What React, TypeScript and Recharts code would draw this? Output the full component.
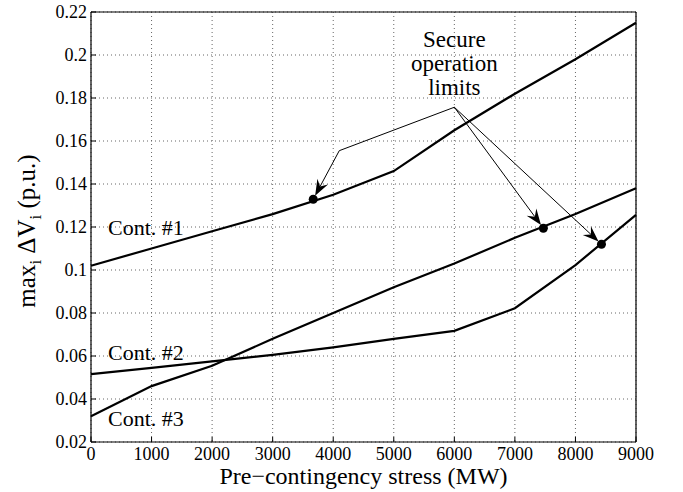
import { CartesianGrid, Line, LineChart, ReferenceDot, ReferenceLine, XAxis, YAxis } from "recharts";

const FONT = "Liberation Serif, DejaVu Serif, serif";

const stress = [0, 1000, 2000, 3000, 4000, 5000, 6000, 7000, 8000, 9000];
const cont1 = [0.102, 0.11, 0.118, 0.126, 0.135, 0.146, 0.165, 0.182, 0.198, 0.215];
const cont2 = [0.0516, 0.0545, 0.0575, 0.0605, 0.064, 0.068, 0.0717, 0.0822, 0.1023, 0.1256];
const cont3 = [0.032, 0.046, 0.0555, 0.068, 0.08, 0.092, 0.103, 0.115, 0.126, 0.138];

const xTicks = [0, 1000, 2000, 3000, 4000, 5000, 6000, 7000, 8000, 9000];
const yTicks = [0.02, 0.04, 0.06, 0.08, 0.1, 0.12, 0.14, 0.16, 0.18, 0.2, 0.22];

// secure operation limits (one per contingency) and the callout path
const limitX = [3670, 7470, 8430];
const limitY = [0.1329, 0.1194, 0.112];
const calloutApex = { x: 6000, y: 0.1757 };
const calloutBend = { x: 4100, y: 0.1555 };

const contLabels = ["Cont. #1", "Cont. #2", "Cont. #3"];
const contLabelX = 280;
const contLabelY = [0.1163, 0.0581, 0.0276];
const noteLines = ["Secure", "operation", "limits"];
const noteAt = { x: 6000, y: 0.2037 };

const data = stress.map((s, i) => ({ s, c1: cont1[i], c2: cont2[i], c3: cont3[i] }));

const fmtY = (v: number) => String(parseFloat(v.toFixed(2)));

function ArrowShape(props: any) {
  const { x1, y1, x2, y2 } = props;
  const dx = x2 - x1;
  const dy = y2 - y1;
  const len = Math.hypot(dx, dy) || 1;
  const ux = dx / len;
  const uy = dy / len;
  const tx = x2 - ux * 4;
  const ty = y2 - uy * 4;
  const L = 16;
  const W = 6;
  const bx = tx - ux * L;
  const by = ty - uy * L;
  const nx = tx - ux * L * 0.65;
  const ny = ty - uy * L * 0.65;
  const pts = [
    [tx, ty],
    [bx - uy * W, by + ux * W],
    [nx, ny],
    [bx + uy * W, by - ux * W],
  ]
    .map((p) => p.join(","))
    .join(" ");
  return (
    <g>
      <line x1={x1} y1={y1} x2={nx} y2={ny} stroke="#000" strokeWidth={1} />
      <polygon points={pts} fill="#000" />
    </g>
  );
}

function YTitle({ viewBox }: any) {
  const cx = viewBox.x + 35;
  const cy = viewBox.y + viewBox.height / 2 + 4;
  return (
    <text x={cx} y={cy} transform={`rotate(-90 ${cx} ${cy})`} textAnchor="middle" fontSize={25} fill="#000" fontFamily={FONT}>
      max<tspan fontSize={17} dy={6}>i</tspan>
      <tspan dy={-6}> ΔV</tspan>
      <tspan fontSize={17} dy={6}>i</tspan>
      <tspan dy={-6}> (p.u.)</tspan>
    </text>
  );
}

function XTitle({ viewBox }: any) {
  return (
    <text x={viewBox.x + viewBox.width / 2} y={viewBox.y + 42} textAnchor="middle" fontSize={24} fill="#000" fontFamily={FONT}>
      Pre−contingency stress (MW)
    </text>
  );
}

export default function App() {
  const tickStyle = { fill: "#000", fontSize: 18, fontFamily: FONT };
  return (
    <div style={{ position: "absolute", left: 0, top: 0, fontFamily: FONT, background: "#fff" }}>
      <LineChart width={683} height={492} data={data} margin={{ top: 11, right: 46, bottom: 0, left: 0 }}>
        <CartesianGrid stroke="#666" strokeDasharray="1 3" />
        <XAxis
          dataKey="s"
          type="number"
          domain={[0, 9000]}
          ticks={xTicks}
          height={50}
          tickSize={-5}
          tickMargin={10}
          tick={tickStyle}
          axisLine={{ stroke: "#000", strokeWidth: 1.2 }}
          tickLine={{ stroke: "#000" }}
          interval={0}
          label={<XTitle />}
        />
        <XAxis
          xAxisId="top"
          orientation="top"
          type="number"
          domain={[0, 9000]}
          ticks={xTicks}
          height={1}
          tickSize={-5}
          tick={false}
          axisLine={{ stroke: "#000", strokeWidth: 1.2 }}
          tickLine={{ stroke: "#000" }}
        />
        <YAxis
          type="number"
          domain={[0.02, 0.22]}
          ticks={yTicks}
          width={91}
          tickSize={-5}
          tickMargin={9}
          tick={tickStyle}
          tickFormatter={fmtY}
          axisLine={{ stroke: "#000", strokeWidth: 1.2 }}
          tickLine={{ stroke: "#000" }}
          interval={0}
          label={<YTitle />}
        />
        <YAxis
          yAxisId="right"
          orientation="right"
          type="number"
          domain={[0.02, 0.22]}
          ticks={yTicks}
          width={1}
          tickSize={-5}
          tick={false}
          axisLine={{ stroke: "#000", strokeWidth: 1.2 }}
          tickLine={{ stroke: "#000" }}
        />
        <Line dataKey="c1" stroke="#000" strokeWidth={2.2} dot={false} isAnimationActive={false} />
        <Line dataKey="c2" stroke="#000" strokeWidth={2.2} dot={false} isAnimationActive={false} />
        <Line dataKey="c3" stroke="#000" strokeWidth={2.2} dot={false} isAnimationActive={false} />

        <ReferenceLine
          segment={[calloutApex, calloutBend]}
          stroke="#000"
          strokeWidth={1}
          ifOverflow="visible"
        />
        {limitX.map((lx, i) => (
          <ReferenceLine
            key={`arrow-${i}`}
            segment={[i === 0 ? calloutBend : calloutApex, { x: lx, y: limitY[i] }]}
            ifOverflow="visible"
            shape={(p: any) => <ArrowShape {...p} />}
          />
        ))}
        {limitX.map((lx, i) => (
          <ReferenceDot key={`dot-${i}`} x={lx} y={limitY[i]} r={4.5} fill="#000" stroke="none" ifOverflow="visible" />
        ))}
        {contLabels.map((t, i) => (
          <ReferenceDot
            key={`lab-${i}`}
            x={contLabelX}
            y={contLabelY[i]}
            ifOverflow="visible"
            shape={(p: any) => (
              <text x={p.cx} y={p.cy} fontSize={22} fill="#000" fontFamily={FONT}>
                {t}
              </text>
            )}
          />
        ))}
        <ReferenceDot
          x={noteAt.x}
          y={noteAt.y}
          ifOverflow="visible"
          shape={(p: any) => (
            <text x={p.cx} y={p.cy} fontSize={23} fill="#000" textAnchor="middle" fontFamily={FONT}>
              {noteLines.map((t, i) => (
                <tspan key={t} x={p.cx} dy={i === 0 ? 0 : 24}>
                  {t}
                </tspan>
              ))}
            </text>
          )}
        />
      </LineChart>
    </div>
  );
}
